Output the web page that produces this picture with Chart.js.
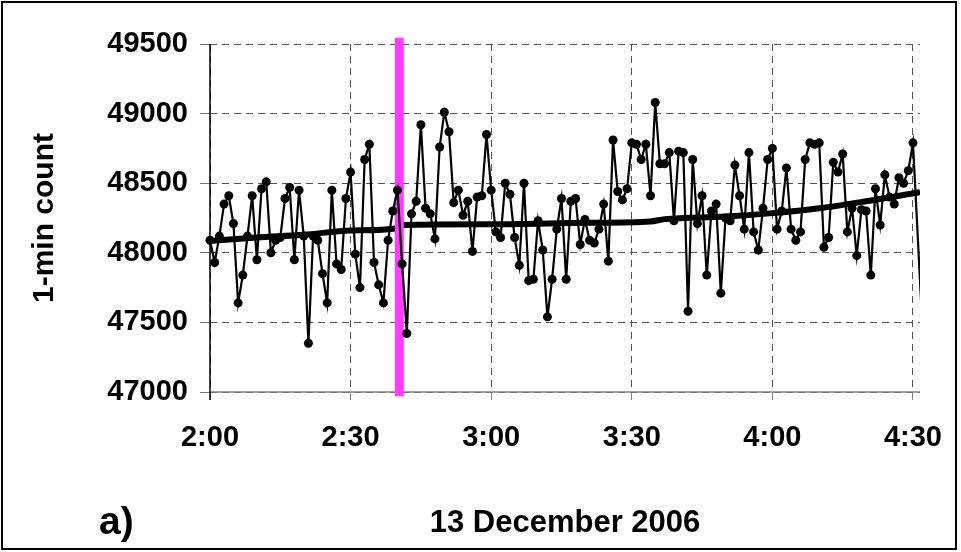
<!DOCTYPE html>
<html>
<head>
<meta charset="utf-8">
<title>1-min count, 13 December 2006</title>
<script src="https://cdn.jsdelivr.net/npm/chart.js@4.4.1/dist/chart.umd.min.js"></script>
<style>
  html, body { margin: 0; padding: 0; background: #fff; }
  #wrap { width: 961px; height: 552px; }
</style>
</head>
<body>
<div id="wrap"><canvas id="myChart" width="961" height="552"></canvas></div>
<script>
// 1-min counts from 2:00 onwards, one per minute
const counts = [
    48090, 47930, 48120, 48350, 48410, 48210, 47640, 47840, 48120, 48410,
    47950, 48460, 48510, 48000, 48090, 48110, 48390, 48470, 47950, 48450,
    48120, 47350, 48120, 48090, 47850, 47640, 48450, 47920, 47880, 48390,
    48580, 47990, 47750, 48670, 48780, 47930, 47770, 47640, 48090, 48300,
    48450, 47920, 47420, 48280, 48370, 48920, 48320, 48280, 48100, 48760,
    49010, 48870, 48360, 48450, 48270, 48370, 48010, 48400, 48410, 48850,
    48450, 48150, 48110, 48500, 48420, 48110, 47910, 48500, 47800, 47810,
    48230, 48020, 47540, 47810, 48170, 48390, 47810, 48370, 48390, 48060,
    48240, 48090, 48070, 48170, 48350, 47940, 48810, 48440, 48380, 48460,
    48790, 48780, 48670, 48780, 48410, 49080, 48640, 48640, 48720, 48230,
    48730, 48720, 47580, 48670, 48210, 48410, 47840, 48300, 48350, 47710,
    48250, 48230, 48630, 48410, 48170, 48720, 48150, 48020, 48320, 48670,
    48750, 48170, 48300, 48610, 48170, 48090, 48150, 48670, 48790, 48780,
    48790, 48040, 48110, 48650, 48580, 48710, 48150, 48320, 47980, 48310,
    48300, 47840, 48460, 48200, 48560, 48400, 48350, 48540, 48500, 48590,
    48790
];
// next reading, outside the plotted window
const tailMinute = 152;
const tailCount = 47470;

// smoothed level (thick line)
const trendMinutes = [0, 10, 20, 30, 40, 41, 60, 80, 94, 97, 110, 120, 130, 140, 151.5];
const trendValues = [48085, 48110, 48130, 48160, 48177, 48200, 48205, 48215, 48225, 48242, 48260, 48285, 48320, 48370, 48435];

// marker line
const markMinute = 40.4;
const markRange = [46970, 49545];

// axes
const tickMinutes = [0, 30, 60, 90, 120, 150];
const timeLabels = ['2:00', '2:30', '3:00', '3:30', '4:00', '4:30'];
const countTicks = [47000, 47500, 48000, 48500, 49000, 49500];
const yTitle = '1-min count';
const xTitle = '13 December 2006';
const panelLabel = 'a)';

const FONT = '"Liberation Sans", Arial, Helvetica, sans-serif';

document.addEventListener('DOMContentLoaded', function () {
    const ctx = document.getElementById('myChart').getContext('2d');

    const countPoints = counts.map((c, i) => ({ x: i, y: c }));
    countPoints.push({ x: tailMinute, y: tailCount });

    // solid axis lines (grid lines stay dashed)
    const axesPlugin = {
        id: 'axes',
        beforeDatasetsDraw(chart) {
            const a = chart.chartArea;
            const c = chart.ctx;
            c.save();
            c.lineWidth = 1.5;
            c.strokeStyle = '#808080';
            c.beginPath();
            c.moveTo(a.left, a.bottom);
            c.lineTo(a.right, a.bottom);
            c.stroke();
            c.strokeStyle = '#000';
            c.beginPath();
            c.moveTo(a.left, a.top);
            c.lineTo(a.left, a.bottom + 8);
            c.stroke();
            c.restore();
        }
    };

    // frame round the whole figure and the panel letter
    const framePlugin = {
        id: 'frame',
        afterDraw(chart) {
            const c = chart.ctx;
            c.save();
            c.strokeStyle = '#000';
            c.lineWidth = 2;
            c.strokeRect(2, 2, 954, 547);
            c.fillStyle = '#000';
            c.font = 'bold 39px ' + FONT;
            c.textBaseline = 'middle';
            c.fillText(panelLabel, 99, 523);
            c.restore();
        }
    };

    new Chart(ctx, {
        type: 'line',
        data: {
            datasets: [
                {
                    label: 'counts',
                    data: countPoints,
                    borderColor: '#000',
                    backgroundColor: '#000',
                    borderWidth: 2.2,
                    pointRadius: c => (c.dataIndex < counts.length ? 4.5 : 0),
                    pointBorderWidth: 0,
                    pointBackgroundColor: '#000',
                    tension: 0,
                    order: 0,
                    clip: { left: 6, right: 0, top: 6, bottom: 6 }
                },
                {
                    label: 'marker',
                    data: markRange.map(v => ({ x: markMinute, y: v })),
                    borderColor: '#ff3cff',
                    borderWidth: 9,
                    borderCapStyle: 'butt',
                    pointRadius: 0,
                    order: 1,
                    clip: { left: 0, right: 0, top: 10, bottom: 10 }
                },
                {
                    label: 'trend',
                    data: trendMinutes.map((m, i) => ({ x: m, y: trendValues[i] })),
                    borderColor: '#000',
                    borderWidth: 6,
                    pointRadius: 0,
                    cubicInterpolationMode: 'monotone',
                    order: 2
                }
            ]
        },
        options: {
            responsive: false,
            animation: false,
            devicePixelRatio: 1,
            layout: { padding: { left: 23, top: 44, right: 41, bottom: 10 } },
            plugins: {
                legend: { display: false },
                tooltip: { enabled: false }
            },
            scales: {
                x: {
                    type: 'linear',
                    min: 0,
                    max: 151.5,
                    afterFit: s => {
                        s.height = 150;
                        s.paddingLeft = 0;
                        s.paddingRight = 0;
                    },
                    afterBuildTicks: s => { s.ticks = tickMinutes.map(v => ({ value: v })); },
                    grid: {
                        color: '#555',
                        lineWidth: 1,
                        tickLength: 8,
                        tickColor: '#808080',
                        tickBorderDash: []
                    },
                    border: { display: false, dash: [7, 5] },
                    ticks: {
                        color: '#000',
                        padding: 21,
                        maxRotation: 0,
                        font: { family: FONT, size: 29, weight: 'bold' },
                        callback: v => timeLabels[tickMinutes.indexOf(v)]
                    },
                    title: {
                        display: true,
                        text: xTitle,
                        color: '#000',
                        padding: { top: 0, bottom: 0 },
                        font: { family: FONT, size: 31, weight: 'bold' }
                    }
                },
                y: {
                    min: 47000,
                    max: 49500,
                    afterFit: s => {
                        s.width = 187;
                        s.paddingTop = 0;
                        s.paddingBottom = 0;
                    },
                    afterBuildTicks: s => { s.ticks = countTicks.map(v => ({ value: v })); },
                    grid: {
                        color: '#555',
                        lineWidth: 1,
                        tickLength: 10,
                        tickColor: '#777',
                        tickBorderDash: []
                    },
                    border: { display: false, dash: [7, 5] },
                    ticks: {
                        color: '#000',
                        padding: 12,
                        font: { family: FONT, size: 29, weight: 'bold' },
                        callback: v => String(v)
                    },
                    title: {
                        display: true,
                        text: yTitle,
                        color: '#000',
                        padding: { top: 4, bottom: 0 },
                        font: { family: FONT, size: 30, weight: 'bold' }
                    }
                }
            }
        },
        plugins: [axesPlugin, framePlugin]
    });
});
</script>
</body>
</html>
